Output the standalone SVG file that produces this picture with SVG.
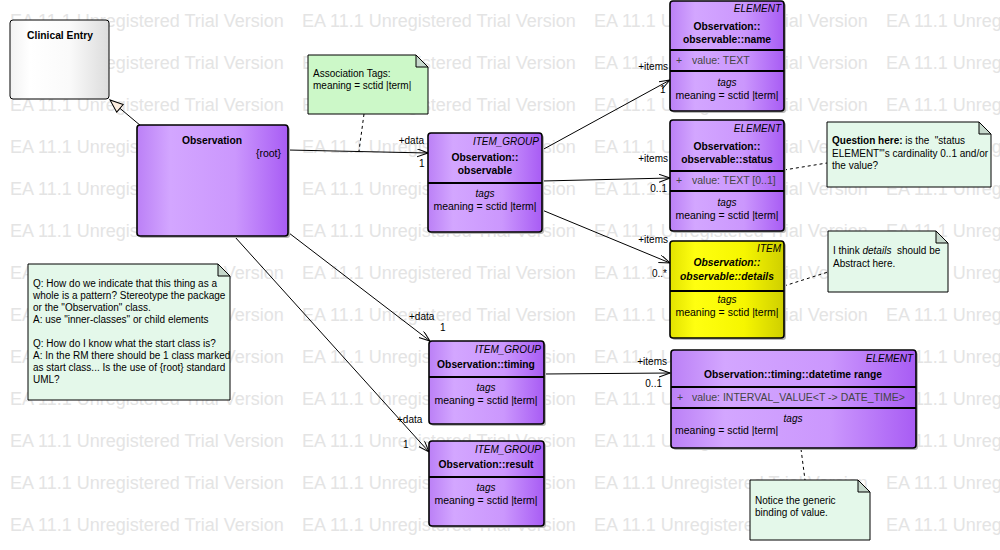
<svg xmlns="http://www.w3.org/2000/svg" xmlns:xlink="http://www.w3.org/1999/xlink" width="1000" height="550" viewBox="0 0 1000 550">
<style>
text{font-family:"Liberation Sans",Arial,sans-serif;fill:#000}
.wm{font-size:18px;fill:#e4e4e4}
.st{font-size:10px;font-style:italic}
.ti{font-size:10.3px;font-weight:bold}
.tx{font-size:10.5px}
.at{font-size:10.5px;fill:#444}
.nt{font-size:10px}
.lb{font-size:10px}
.cls{stroke:#000;stroke-width:1.6}
.dv{stroke:#000;stroke-width:2}
.sh{fill:#b8b8b8}
.note{fill:#e4f8ea;stroke:#000;stroke-width:1}
.fold{fill:#c6d8cc;stroke:#000;stroke-width:1}
.con{stroke:#000;stroke-width:1;fill:none}
.dash{stroke:#000;stroke-width:1;fill:none;stroke-dasharray:3,3}
</style>
<defs>
<linearGradient id="gp" x1="0" y1="0" x2="1" y2="0">
<stop offset="0" stop-color="#bb80f6"/>
<stop offset="0.22" stop-color="#d3a6ff"/>
<stop offset="0.65" stop-color="#cb97fd"/>
<stop offset="1" stop-color="#a85cf4"/>
</linearGradient>
<linearGradient id="gy" x1="0" y1="0" x2="1" y2="0">
<stop offset="0" stop-color="#e2e200"/>
<stop offset="0.22" stop-color="#ffff10"/>
<stop offset="0.65" stop-color="#f6f600"/>
<stop offset="1" stop-color="#cfcf00"/>
</linearGradient>
<linearGradient id="gw" x1="0" y1="0" x2="1" y2="0">
<stop offset="0" stop-color="#f2f2f2"/>
<stop offset="0.2" stop-color="#ffffff"/>
<stop offset="0.6" stop-color="#fafafa"/>
<stop offset="1" stop-color="#dcdcdc"/>
</linearGradient>
<marker id="arr" markerWidth="12" markerHeight="10" refX="11" refY="4" orient="auto" markerUnits="userSpaceOnUse">
<path d="M0,0 L11,4 L0,8" fill="none" stroke="#000" stroke-width="1"/>
</marker>
<marker id="gen" markerWidth="16" markerHeight="14" refX="14" refY="6" orient="auto" markerUnits="userSpaceOnUse">
<path d="M1,1 L14,6 L1,11 Z" fill="#fdeee0" stroke="#000" stroke-width="1"/>
</marker>
<text id="wmrow" class="wm"><tspan x="10">EA 11.1 Unregistered Trial Version</tspan><tspan x="302">EA 11.1 Unregistered Trial Version</tspan><tspan x="594">EA 11.1 Unregistered Trial Version</tspan><tspan x="886">EA 11.1 Unregistered Trial Version</tspan></text>
</defs>
<rect width="1000" height="550" fill="#fff"/>
<g id="watermark">
<use xlink:href="#wmrow" y="27"/>
<use xlink:href="#wmrow" y="69"/>
<use xlink:href="#wmrow" y="111"/>
<use xlink:href="#wmrow" y="153"/>
<use xlink:href="#wmrow" y="195"/>
<use xlink:href="#wmrow" y="237"/>
<use xlink:href="#wmrow" y="279"/>
<use xlink:href="#wmrow" y="321"/>
<use xlink:href="#wmrow" y="363"/>
<use xlink:href="#wmrow" y="405"/>
<use xlink:href="#wmrow" y="447"/>
<use xlink:href="#wmrow" y="489"/>
<use xlink:href="#wmrow" y="531"/>
</g>
<g id="connectors">
<line class="con" x1="141" y1="126" x2="110" y2="100" marker-end="url(#gen)"/>
<line class="con" x1="288" y1="150" x2="428" y2="153" marker-end="url(#arr)"/>
<line class="con" x1="542" y1="150" x2="670" y2="80" marker-end="url(#arr)"/>
<line class="con" x1="542" y1="181" x2="670" y2="178" marker-end="url(#arr)"/>
<line class="con" x1="542" y1="210" x2="670" y2="263" marker-end="url(#arr)"/>
<line class="con" x1="289" y1="233" x2="430" y2="341" marker-end="url(#arr)"/>
<line class="con" x1="235" y1="237" x2="429" y2="452" marker-end="url(#arr)"/>
<line class="con" x1="544" y1="374" x2="670" y2="373" marker-end="url(#arr)"/>
<line class="dash" x1="364" y1="114" x2="359" y2="151"/>
<line class="dash" x1="784" y1="170" x2="827" y2="163"/>
<line class="dash" x1="784" y1="286" x2="828" y2="272"/>
<line class="dash" x1="801" y1="449" x2="805" y2="480"/>
<text class="lb" x="424" y="144" text-anchor="end">+data</text>
<text class="lb" x="419" y="167">1</text>
<text class="lb" x="668" y="70" text-anchor="end">+items</text>
<text class="lb" x="660" y="93">1</text>
<text class="lb" x="668" y="162" text-anchor="end">+items</text>
<text class="lb" x="667" y="192" text-anchor="end">0..1</text>
<text class="lb" x="668" y="243" text-anchor="end">+items</text>
<text class="lb" x="667" y="277" text-anchor="end">0..*</text>
<text class="lb" x="409" y="320">+data</text>
<text class="lb" x="440" y="331">1</text>
<text class="lb" x="397" y="423">+data</text>
<text class="lb" x="403" y="448">1</text>
<text class="lb" x="667" y="365" text-anchor="end">+items</text>
<text class="lb" x="662" y="387" text-anchor="end">0..1</text>
</g>
<g id="clinical-entry">
<rect x="10" y="20" width="99" height="79" rx="3" fill="url(#gw)" stroke="#000" stroke-width="1"/>
<text class="ti" x="60" y="39" text-anchor="middle">Clinical Entry</text>
</g>
<g id="observation">
<rect class="sh" x="139" y="127" width="151" height="111" rx="3"/>
<rect class="cls" x="137" y="125" width="151" height="111" rx="3" fill="url(#gp)"/>
<text class="ti" x="212" y="144" text-anchor="middle">Observation</text>
<text class="tx" x="281" y="157" text-anchor="end">{root}</text>
</g>
<g id="observable">
<rect class="sh" x="430" y="135" width="114" height="99" rx="3"/>
<rect class="cls" x="428" y="133" width="114" height="99" rx="3" fill="url(#gp)"/>
<line class="dv" x1="428" y1="183" x2="542" y2="183"/>
<text class="st" x="539" y="145" text-anchor="end">ITEM_GROUP</text>
<text class="ti" x="485" y="161" text-anchor="middle">Observation::</text>
<text class="ti" x="485" y="174" text-anchor="middle">observable</text>
<text class="st" x="485" y="197" text-anchor="middle">tags</text>
<text class="tx" x="485" y="210" text-anchor="middle">meaning = sctid |term|</text>
</g>
<g id="name">
<rect class="sh" x="672" y="3" width="114" height="110" rx="3"/>
<rect class="cls" x="670" y="1" width="114" height="110" rx="3" fill="url(#gp)"/>
<line class="dv" x1="670" y1="50" x2="784" y2="50"/>
<line class="dv" x1="670" y1="71" x2="784" y2="71"/>
<text class="st" x="781" y="12" text-anchor="end">ELEMENT</text>
<text class="ti" x="727" y="30" text-anchor="middle">Observation::</text>
<text class="ti" x="727" y="43" text-anchor="middle">observable::name</text>
<text class="at" x="676" y="64">+</text>
<text class="at" x="692" y="64">value: TEXT</text>
<text class="st" x="727" y="86" text-anchor="middle">tags</text>
<text class="tx" x="727" y="99" text-anchor="middle">meaning = sctid |term|</text>
</g>
<g id="status">
<rect class="sh" x="672" y="122" width="114" height="111" rx="3"/>
<rect class="cls" x="670" y="120" width="114" height="111" rx="3" fill="url(#gp)"/>
<line class="dv" x1="670" y1="171" x2="784" y2="171"/>
<line class="dv" x1="670" y1="191" x2="784" y2="191"/>
<text class="st" x="781" y="132" text-anchor="end">ELEMENT</text>
<text class="ti" x="727" y="150" text-anchor="middle">Observation::</text>
<text class="ti" x="727" y="163" text-anchor="middle">observable::status</text>
<text class="at" x="676" y="184">+</text>
<text class="at" x="692" y="184">value: TEXT [0..1]</text>
<text class="st" x="727" y="206" text-anchor="middle">tags</text>
<text class="tx" x="727" y="219" text-anchor="middle">meaning = sctid |term|</text>
</g>
<g id="details">
<rect class="sh" x="672" y="243" width="114" height="97" rx="3"/>
<rect class="cls" x="670" y="241" width="114" height="97" rx="3" fill="url(#gy)"/>
<line class="dv" x1="670" y1="291" x2="784" y2="291"/>
<text class="st" x="781" y="252" text-anchor="end">ITEM</text>
<text class="ti" x="727" y="266" text-anchor="middle" font-style="italic">Observation::</text>
<text class="ti" x="727" y="280" text-anchor="middle" font-style="italic">observable::details</text>
<text class="st" x="727" y="303" text-anchor="middle">tags</text>
<text class="tx" x="727" y="316" text-anchor="middle">meaning = sctid |term|</text>
</g>
<g id="timing">
<rect class="sh" x="431" y="343" width="115" height="83" rx="3"/>
<rect class="cls" x="429" y="341" width="115" height="83" rx="3" fill="url(#gp)"/>
<line class="dv" x1="429" y1="377" x2="544" y2="377"/>
<text class="st" x="541" y="353" text-anchor="end">ITEM_GROUP</text>
<text class="ti" x="486" y="368" text-anchor="middle">Observation::timing</text>
<text class="st" x="486" y="391" text-anchor="middle">tags</text>
<text class="tx" x="486" y="404" text-anchor="middle">meaning = sctid |term|</text>
</g>
<g id="result">
<rect class="sh" x="431" y="443" width="115" height="85" rx="3"/>
<rect class="cls" x="429" y="441" width="115" height="85" rx="3" fill="url(#gp)"/>
<line class="dv" x1="429" y1="477" x2="544" y2="477"/>
<text class="st" x="541" y="453" text-anchor="end">ITEM_GROUP</text>
<text class="ti" x="486" y="468" text-anchor="middle">Observation::result</text>
<text class="st" x="486" y="491" text-anchor="middle">tags</text>
<text class="tx" x="486" y="504" text-anchor="middle">meaning = sctid |term|</text>
</g>
<g id="datetime-range">
<rect class="sh" x="673" y="352" width="245" height="98" rx="3"/>
<rect class="cls" x="671" y="350" width="245" height="98" rx="3" fill="url(#gp)"/>
<line class="dv" x1="671" y1="387" x2="916" y2="387"/>
<line class="dv" x1="671" y1="408" x2="916" y2="408"/>
<text class="st" x="913" y="362" text-anchor="end">ELEMENT</text>
<text class="ti" x="793" y="378" text-anchor="middle">Observation::timing::datetime range</text>
<text class="at" x="677" y="401">+</text>
<text class="at" x="692" y="401">value: INTERVAL_VALUE&lt;T -&gt; DATE_TIME&gt;</text>
<text class="st" x="793" y="422" text-anchor="middle">tags</text>
<text class="tx" x="675" y="434">meaning = sctid |term|</text>
</g>
<g id="note-association-tags">
<path d="M308,55 H416 L428,67 V114 H308 Z" fill="#ccf8c8" stroke="#000" stroke-width="1"/>
<path class="fold" d="M416,55 V67 H428 Z"/>
<text class="nt" x="313" y="77">Association Tags:</text>
<text class="nt" x="313" y="89">meaning = sctid |term|</text>
</g>
<g id="note-status">
<path class="note" d="M827,122 H979 L991,134 V187 H827 Z"/>
<path class="fold" d="M979,122 V134 H991 Z"/>
<text class="nt" x="832" y="144"><tspan font-weight="bold">Question here:</tspan> is the &#160;"status</text>
<text class="nt" x="832" y="157">ELEMENT"'s cardinality 0..1 and/or</text>
<text class="nt" x="832" y="169">the value?</text>
</g>
<g id="note-details">
<path class="note" d="M828,231 H936 L948,243 V292 H828 Z"/>
<path class="fold" d="M936,231 V243 H948 Z"/>
<text class="nt" x="833" y="254">I think <tspan font-style="italic">details</tspan> &#160;should be</text>
<text class="nt" x="833" y="267">Abstract here.</text>
</g>
<g id="note-pattern">
<path class="note" d="M28,264 H218 L230,276 V400 H28 Z"/>
<path class="fold" d="M218,264 V276 H230 Z"/>
<text class="nt" x="33" y="287">Q: How do we indicate that this thing as a</text>
<text class="nt" x="33" y="299">whole is a pattern? Stereotype the package</text>
<text class="nt" x="33" y="311">or the "Observation" class.</text>
<text class="nt" x="33" y="323">A: use "inner-classes" or child elements</text>
<text class="nt" x="33" y="347">Q: How do I know what the start class is?</text>
<text class="nt" x="33" y="359">A: In the RM there should be 1 class marked</text>
<text class="nt" x="33" y="371">as start class... Is the use of {root} standard</text>
<text class="nt" x="33" y="383">UML?</text>
</g>
<g id="note-generic">
<path class="note" d="M750,480 H858 L870,492 V540 H750 Z"/>
<path class="fold" d="M858,480 V492 H870 Z"/>
<text class="nt" x="755" y="504">Notice the generic</text>
<text class="nt" x="755" y="516">binding of value.</text>
</g>
</svg>
